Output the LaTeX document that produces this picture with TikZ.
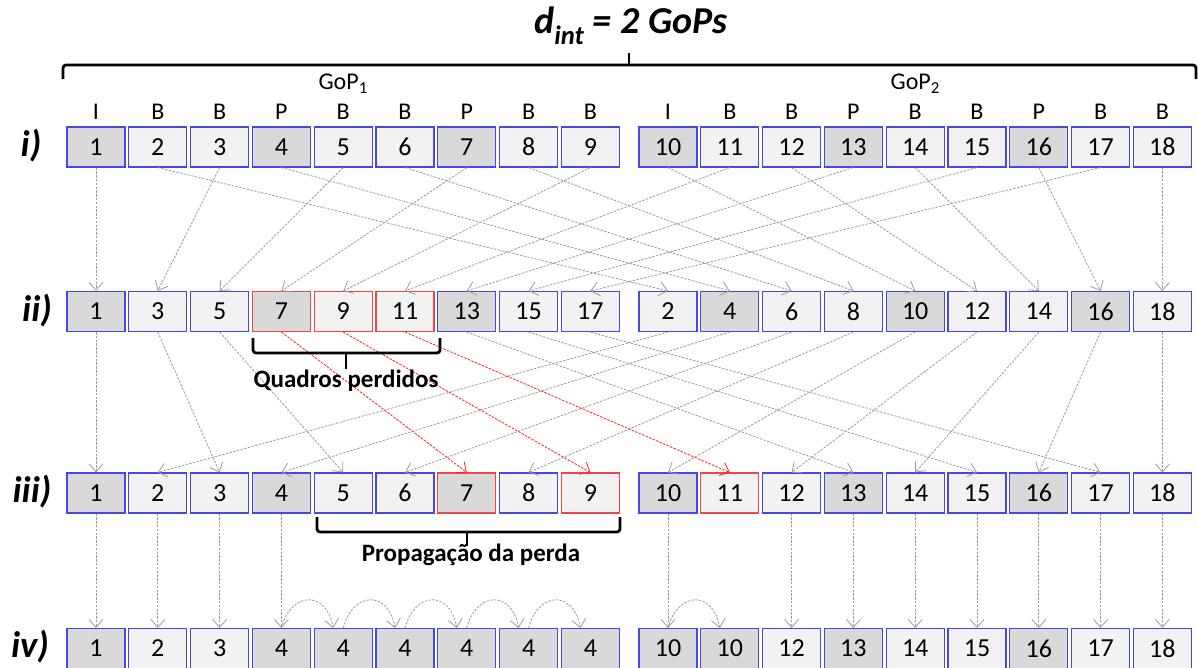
\documentclass[tikz,border=0pt]{standalone}
\usepackage{fontspec}
\setmainfont{Carlito}
\usetikzlibrary{arrows.meta}
\definecolor{bblue}{RGB}{70,70,235}
\definecolor{bred}{RGB}{240,70,70}
\definecolor{fdark}{RGB}{217,217,217}
\definecolor{flight}{RGB}{242,242,242}
\definecolor{agray}{RGB}{155,155,155}
\definecolor{ared}{RGB}{255,30,30}
\newcommand\myfs[1]{\fontsize{#1pt}{#1pt}\selectfont}
\begin{document}
\begin{tikzpicture}[x=1pt,y=-1pt,
  box/.style={draw=bblue, line width=1.1pt, minimum width=58pt, minimum height=40pt, inner sep=0pt, font=\myfs{26}},
  dk/.style={box, fill=fdark},
  lt/.style={box, fill=flight},
  dkr/.style={dk, draw=bred},
  ltr/.style={lt, draw=bred},
  lett/.style={font=\myfs{24}, anchor=base, inner sep=0pt},
  rowlab/.style={font=\myfs{37}\bfseries\itshape, inner sep=0pt},
  bracelab/.style={font=\myfs{25}\bfseries, anchor=base, inner sep=0pt},
  brace/.style={line width=2.8pt, black, rounded corners=3pt},
  arr/.style={draw=agray, line width=0.8pt, dash pattern=on 2.5pt off 1.3pt,
    -{Straight Barb[length=8pt,width=14pt,line width=0.8pt]}},
  arrr/.style={arr, draw=ared}
]
\useasboundingbox (0,0) rectangle (1198,668);
\clip (0,0) rectangle (1198,668);

% title
\node[font=\myfs{38}\bfseries\itshape, anchor=base, inner sep=0pt] (title) at (631,34) {d\textsubscript{int} = 2 GoPs};

% row i
\foreach \p/\n/\s in {1/1/dk,2/2/lt,3/3/lt,4/4/dk,5/5/lt,6/6/lt,7/7/dk,8/8/lt,9/9/lt,10/10/dk,11/11/lt,12/12/lt,13/13/dk,14/14/lt,15/15/lt,16/16/dk,17/17/lt,18/18/lt}{
  \pgfmathsetmacro\xx{\p<10 ? 96+(\p-1)*61.8 : 668+(\p-10)*61.8}
  \node[\s] (a\p) at (\xx,147) {\n};
}
% row ii
\foreach \p/\n/\s in {1/1/dk,2/3/lt,3/5/lt,4/7/dkr,5/9/ltr,6/11/ltr,7/13/dk,8/15/lt,9/17/lt,10/2/lt,11/4/dk,12/6/lt,13/8/lt,14/10/dk,15/12/lt,16/14/lt,17/16/dk,18/18/lt}{
  \pgfmathsetmacro\xx{\p<10 ? 96+(\p-1)*61.8 : 668+(\p-10)*61.8}
  \node[\s] (b\p) at (\xx,311.5) {\n};
}
% row iii
\foreach \p/\n/\s in {1/1/dk,2/2/lt,3/3/lt,4/4/dk,5/5/lt,6/6/lt,7/7/dkr,8/8/lt,9/9/ltr,10/10/dk,11/11/ltr,12/12/lt,13/13/dk,14/14/lt,15/15/lt,16/16/dk,17/17/lt,18/18/lt}{
  \pgfmathsetmacro\xx{\p<10 ? 96+(\p-1)*61.8 : 668+(\p-10)*61.8}
  \node[\s] (c\p) at (\xx,493) {\n};
}
% row iv
\foreach \p/\n/\s in {1/1/dk,2/2/lt,3/3/lt,4/4/dk,5/4/dk,6/4/dk,7/4/dk,8/4/dk,9/4/dk,10/10/dk,11/10/dk,12/12/lt,13/13/dk,14/14/lt,15/15/lt,16/16/dk,17/17/lt,18/18/lt}{
  \pgfmathsetmacro\xx{\p<10 ? 96+(\p-1)*61.8 : 668+(\p-10)*61.8}
  \node[\s] (d\p) at (\xx,648.5) {\n};
}

% frame types
\foreach \p/\t in {1/I,2/B,3/B,4/P,5/B,6/B,7/P,8/B,9/B,10/I,11/B,12/B,13/P,14/B,15/B,16/P,17/B,18/B}{
  \node[lett] (t\p) at (a\p.center |- 0,120) {\t};
}
\node[lett] (gop1) at (a5.center |- 0,90) {GoP\textsubscript{1}};
\node[lett] (gop2) at (a14.center |- 0,90) {GoP\textsubscript{2}};

% row labels
\node[rowlab] (li) at (31,146) {i)};
\node[rowlab] (lii) at (37,310.5) {ii)};
\node[rowlab] (liii) at (32,492) {iii)};
\node[rowlab] (liv) at (30,647) {iv)};

% top brace
\draw[brace] (63,79) -- (63,65) -- (1196,65) -- (1196,79);
\draw[line width=2.8pt] (629,66) -- (629,53);

% i -> ii
\foreach \k/\q in {1/1,3/2,5/3,7/4,9/5,11/6,13/7,15/8,17/9,2/10,4/11,6/12,8/13,10/14,12/15,14/16,16/17,18/18}{
  \draw[arr] (a\k.south) -- (b\q.north);
}
% ii -> iii
\foreach \k/\q in {1/1,3/2,5/3,13/7,15/8,17/9,2/10,4/11,6/12,8/13,10/14,12/15,14/16,16/17,18/18}{
  \draw[arr] (b\q.south) -- (c\k.north);
}
\foreach \k/\q in {7/4,9/5,11/6}{
  \draw[arrr] (b\q.south) -- (c\k.north);
}
% iii -> iv
\foreach \p in {1,2,3,4,10,12,13,14,15,16,17,18}{
  \draw[arr] (c\p.south) -- (d\p.north);
}
% concealment arcs
\foreach \p/\q in {4/5,5/6,6/7,7/8,8/9,10/11}{
  \draw[arr] (d\p.north) to[out=75,in=100,looseness=1.9] ([xshift=-10pt]d\q.north);
}

% braces below
\draw[brace] (253,338) -- (253,353) -- (440,353) -- (440,338);
\draw[line width=2.8pt] (346,352) -- (346,369);
\node[bracelab] (qp) at (346,387) {Quadros perdidos};

\draw[brace] (317,517) -- (317,532) -- (620,532) -- (620,517);
\draw[line width=2.8pt] (467,531) -- (467,546);
\node[bracelab] (pp) at (471,561) {Propagação da perda};
\end{tikzpicture}
\end{document}
